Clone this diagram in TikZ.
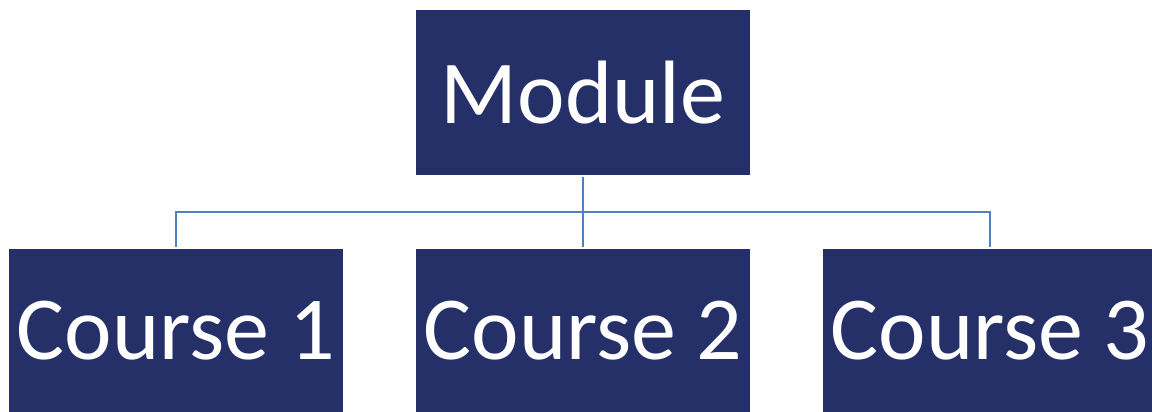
\documentclass[tikz,border=0pt]{standalone}
\usepackage{fontspec}
\setmainfont{Carlito}
\usetikzlibrary{positioning}
\definecolor{mynavy}{RGB}{38,48,104}
\definecolor{mylink}{RGB}{79,129,189}
\tikzstyle{box}=[fill=mynavy,text=white,minimum width=167pt,minimum height=82.5pt,inner sep=0,outer sep=1pt,font=\fontsize{45}{54}\selectfont]
\tikzstyle{link}=[draw=mylink,line width=1pt]

\begin{document}
\begin{tikzpicture}[x=0.5pt,y=0.5pt]

    \useasboundingbox (0,0) rectangle (1152,412);

    \node[box] (module) at (583,319.5) {Module};
    \node[box,minimum height=81.5pt] (course2) at (583,81.5) {Course 2};
    \node[box,minimum height=81.5pt,left=34.5pt of course2] (course1) {Course 1};
    \node[box,minimum height=81.5pt,right=34.5pt of course2] (course3) {Course 3};

    \coordinate (split) at (583,200);
    \draw[link] (module) -- (split);
    \draw[link] (split) -- (course2);
    \draw[link] (course1.north) |- (split) -| (course3.north);

\end{tikzpicture}
\end{document}
